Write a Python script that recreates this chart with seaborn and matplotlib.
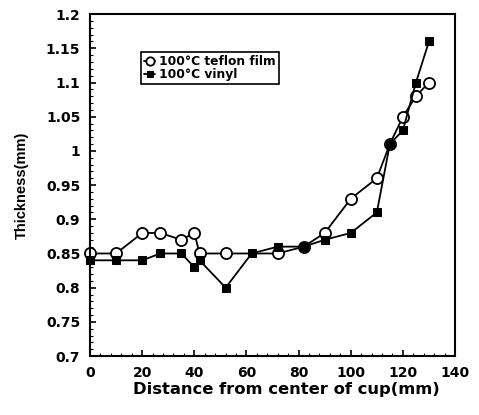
import matplotlib
matplotlib.use("Agg")
import matplotlib.pyplot as plt
from matplotlib.ticker import AutoMinorLocator, MultipleLocator
import seaborn as sns
import pandas as pd

# Teflon film series (open circles)
teflon_x = [0, 10, 20, 27, 35, 40, 42, 52, 72, 82, 90, 100, 110, 115, 120, 125, 130]
teflon_y = [0.85, 0.85, 0.88, 0.88, 0.87, 0.88, 0.85, 0.85, 0.85, 0.86, 0.88,
            0.93, 0.96, 1.01, 1.05, 1.08, 1.10]

# Vinyl series (filled squares)
vinyl_x = [0, 10, 20, 27, 35, 40, 42, 52, 62, 72, 82, 90, 100, 110, 115, 120, 125, 130]
vinyl_y = [0.84, 0.84, 0.84, 0.85, 0.85, 0.83, 0.84, 0.80, 0.85, 0.86, 0.86, 0.87,
           0.88, 0.91, 1.01, 1.03, 1.10, 1.16]

y_ticks = [0.7, 0.75, 0.8, 0.85, 0.9, 0.95, 1.0, 1.05, 1.1, 1.15, 1.2]
y_tick_labels = ['0.7', '0.75', '0.8', '0.85', '0.9', '0.95', '1', '1.05', '1.1', '1.15', '1.2']

teflon = pd.DataFrame({'dist': teflon_x, 'thick': teflon_y})
vinyl = pd.DataFrame({'dist': vinyl_x, 'thick': vinyl_y})

sns.set_style('ticks')
plt.rcParams['font.family'] = ['DejaVu Sans']
plt.rcParams['font.weight'] = 'bold'
plt.rcParams['text.color'] = 'black'
plt.rcParams['axes.labelcolor'] = 'black'
plt.rcParams['xtick.color'] = 'black'
plt.rcParams['ytick.color'] = 'black'

fig = plt.figure(figsize=(4.79, 4.15), dpi=100)
ax = fig.add_axes([0.188, 0.142, 0.762, 0.824])

sns.lineplot(data=teflon, x='dist', y='thick', ax=ax, color='black', linewidth=1.3,
             marker='o', markersize=8, markerfacecolor='white', markeredgecolor='black',
             markeredgewidth=1.3, label='100°C teflon film', clip_on=False)
sns.lineplot(data=vinyl, x='dist', y='thick', ax=ax, color='black', linewidth=1.3,
             marker='s', markersize=5.5, markerfacecolor='black', markeredgecolor='black',
             label='100°C vinyl', clip_on=False)

ax.set_xlim(0, 140)
ax.set_ylim(0.7, 1.2)
ax.xaxis.set_major_locator(MultipleLocator(20))
ax.xaxis.set_minor_locator(AutoMinorLocator(5))
ax.set_yticks(y_ticks)
ax.set_yticklabels(y_tick_labels)
ax.yaxis.set_minor_locator(AutoMinorLocator(5))
ax.tick_params(which='major', direction='in', length=4, width=1.2, labelsize=10,
               colors='black')
ax.tick_params(axis='x', which='major', pad=7)
ax.tick_params(axis='y', which='major', pad=7)
ax.tick_params(which='minor', direction='in', length=2, width=0.8, colors='black')
for lab in ax.get_xticklabels() + ax.get_yticklabels():
    lab.set_fontweight('bold')
for s in ax.spines.values():
    s.set_linewidth(1.5)
    s.set_color('black')

ax.set_xlabel('Distance from center of cup(mm)', fontsize=11.8, fontweight='bold',
              color='black')
ax.xaxis.set_label_coords(0.537, -0.099)
ax.xaxis.label.set_va('center')
ax.set_ylabel('Thickness(mm)', fontsize=10.5, fontweight='bold', color='black',
              family=['Liberation Sans', 'DejaVu Sans'])
ax.yaxis.set_label_coords(-0.186, 0.5)
ax.yaxis.label.set_va('center')
ax.yaxis.label.set_path_effects([])
ax.yaxis.label.set_fontstretch('condensed')

leg = ax.legend(loc='upper left', bbox_to_anchor=(0.14, 0.89), frameon=True, fancybox=False,
                edgecolor='black', framealpha=1, handlelength=0.9, handletextpad=0.3,
                borderpad=0.25, borderaxespad=0, labelspacing=0.05, markerscale=0.75,
                prop={'weight': 'bold', 'size': 8.8})
leg.get_frame().set_linewidth(1.2)
for t in leg.get_texts():
    t.set_color('black')

fig.savefig('out.png', dpi=100)
